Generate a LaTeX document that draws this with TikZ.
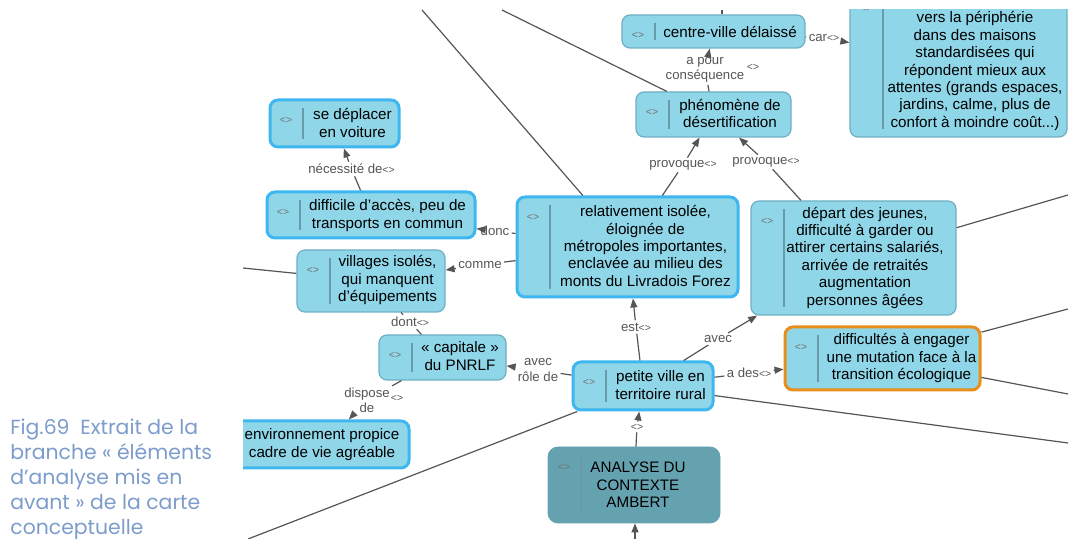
\documentclass[tikz,border=0pt]{standalone}
\usepackage{fontspec}
\setmainfont{Liberation Sans}
\newfontfamily\capfont{Poppins}
\usetikzlibrary{arrows.meta,calc}
\definecolor{ConceptFill}{HTML}{8FD6E8}
\definecolor{ThickBlue}{HTML}{3EB7F0}
\definecolor{ThinTeal}{HTML}{6EAFC3}
\definecolor{MapOrange}{HTML}{E88E1A}
\definecolor{RootTeal}{HTML}{65A2B0}
\definecolor{SepGrey}{HTML}{6A9AAA}
\definecolor{LinkGrey}{HTML}{555555}
\definecolor{CaptionBlue}{HTML}{7C9CCB}
\newcommand\icn{{\fontsize{5.2}{6}\selectfont <>}}

\begin{document}
\begin{tikzpicture}[x=0.5pt,y=-0.5pt,
  cbox/.style={rounded corners=4pt, fill=ConceptFill, inner sep=0pt,
    path picture={
      \draw[SepGrey, line width=0.6pt]
        ($(path picture bounding box.north west)+(33,8)$) --
        ($(path picture bounding box.south west)+(33,-8)$);
      \node[text=black!55, inner sep=0pt]
        at ($(path picture bounding box.north west)+(16,20)$) {\icn};
    }},
  cthin/.style={cbox, draw=ThinTeal, line width=0.6pt},
  cthick/.style={cbox, draw=ThickBlue, line width=1.5pt},
  corange/.style={cbox, draw=MapOrange, line width=1.5pt},
  croot/.style={cbox, fill=RootTeal, draw=RootTeal, rounded corners=5pt},
  ctext/.style={align=center, inner sep=0pt, font=\fontsize{7.6}{8.7}\selectfont},
  lbl/.style={align=center, inner sep=1pt, text=LinkGrey,
    font=\fontsize{6.6}{7.6}\selectfont},
  link/.style={draw=LinkGrey, line width=0.6pt},
  arr/.style={link, -{Triangle[length=4.5pt,width=3.5pt]}}]
\useasboundingbox (0,0) rectangle (1073,539);

% the map itself, cut at the edges of the screenshot
\begin{scope}
\clip (243,10) rectangle (1068,539);
\foreach \nm/\st/\x/\y/\w/\h/\tx/\ty/\txt in {
  centre/cthin/713.5/31.5/183/33/730/32/{centre-ville délaissé},
  bigbox/cthin/958.5/62.5/217/149/975/71/{vers la périphérie\\dans des maisons\\standardisées qui\\répondent mieux aux\\attentes (grands espaces,\\jardins, calme, plus de\\confort à moindre coût...)},
  phen/cthin/713.5/114.5/155/45/730/113.5/{phénomène de\\désertification},
  sedepl/cthick/334.5/123.5/129/47/352.5/123/{se déplacer\\en voiture},
  diffi/cthick/371/215/208/46/387.5/215.5/{difficile d’accès, peu de\\transports en commun},
  vill/cthin/371/281/148/62/387.5/280/{villages isolés,\\qui manquent\\d’équipements},
  relat/cthick/627.5/247/221/100/645.5/246/{relativement isolée,\\éloignée de\\métropoles importantes,\\enclavée au milieu des\\monts du Livradois Forez},
  depart/cthin/853.5/258/205/114/865/257.5/{départ des jeunes,\\difficulté à garder ou\\attirer certains salariés,\\arrivée de retraités\\augmentation\\personnes âgées},
  transi/corange/882.5/358.5/195/63/901.5/358/{difficultés à engager\\une mutation face à la\\transition écologique},
  petite/cthick/643/386/140/48/660.5/385/{petite ville en\\territoire rural},
  capit/cthin/442.5/357.5/127/45/460/356/{«~capitale~»\\du PNRLF},
  envir/cthick/305.5/444.5/207/47/322/444.5/{environnement propice\\cadre de vie agréable},
  analyse/croot/634/485/172/76/638/485/{ANALYSE DU\\CONTEXTE\\AMBERT}}
{
  \node[\st, minimum width={\w*0.5pt}, minimum height={\h*0.5pt}] (\nm) at (\x,\y) {};
  \node[ctext] (\nm-t) at (\tx,\ty) {\txt};
}

% linking phrases
\node[lbl] (lcar) at (824,38) {car\icn};
\node[lbl] (lcons) at (705,70) {a pour\\conséquence};
\node[lbl] (lcons-i) at (753,67) {\icn};
\node[lbl] (lprov1) at (683,165) {provoque\icn};
\node[lbl] (lprov2) at (766,162) {provoque\icn};
\node[lbl] (lnec) at (351.5,169) {nécessité de\icn};
\node[lbl] (ldonc) at (495,231) {donc};
\node[lbl] (lcomme) at (480,265) {comme};
\node[lbl] (ldont) at (410,322) {dont\icn};
\node[lbl] (lrole) at (538,370) {avec\\rôle de};
\node[lbl] (ldisp) at (367,400) {dispose\\de};
\node[lbl] (ldisp-i) at (397,398) {\icn};
\node[lbl] (lest) at (636,327) {est\icn};
\node[lbl] (lavec) at (718,339) {avec};
\node[lbl] (lades) at (749,373) {a des\icn};
\node[lbl] (lana) at (637,427) {\icn};

\draw[link] (centre) -- (lcar);
\draw[arr] (lcar) -- (bigbox);
\draw[link] (phen) -- (lcons);
\draw[arr] (lcons) -- (centre);
\draw[link] (relat) -- (lprov1);
\draw[arr] (lprov1) -- (phen);
\draw[link] (depart) -- (lprov2);
\draw[arr] (lprov2) -- (phen);
\draw[link] (diffi) -- (lnec);
\draw[arr] (lnec) -- (sedepl);
\draw[link] (relat) -- (ldonc);
\draw[arr] (ldonc) -- (diffi);
\draw[link] (relat) -- (lcomme);
\draw[arr] (lcomme) -- (vill);
\draw[link] (vill) -- (ldont);
\draw[link] (ldont) -- (capit);
\draw[link] (petite) -- (lrole);
\draw[arr] (lrole) -- (capit);
\draw[link] (capit) -- (ldisp);
\draw[arr] (ldisp) -- (envir.30);
\draw[link] (petite) -- (lest);
\draw[arr] (lest) -- (relat);
\draw[link] (petite) -- (lavec);
\draw[arr] (lavec) -- (depart);
\draw[link] (petite) -- (lades);
\draw[arr] (lades) -- (transi);
\draw[link] (analyse) -- (lana);
\draw[arr] (lana) -- (petite);

% links leaving the cut-out
\coordinate (ftop1) at (422,10);
\coordinate (ftop2) at (502,10);
\coordinate (ftop3) at (722,10);
\coordinate (fleft) at (243,268);
\coordinate (fright1) at (1068,195);
\coordinate (fright2) at (1068,309);
\coordinate (fright3) at (1068,394);
\coordinate (fright4) at (1068,443);
\coordinate (fbl) at (248,539);
\coordinate (fbot) at (635,539);
\draw[link] (ftop1) -- (relat);
\draw[link] (ftop2) -- (phen);
\draw[link] (ftop3) -- (ftop3 |- centre.north);
\draw[link] (fleft) -- (vill);
\draw[link] (fright1) -- (depart);
\draw[link] (fright2) -- (transi);
\draw[link] (fright3) -- (transi);
\draw[link] (fright4) -- (petite);
\draw[link] (fbl) -- (petite);
\draw[arr] (fbot) -- (fbot |- analyse.south);
\end{scope}

\node[anchor=north west, align=left, inner sep=0pt, text=CaptionBlue,
  font=\capfont\fontsize{10.2}{12.5}\selectfont] (caption) at (10,419)
  {Fig.69\ \ Extrait de la\\branche « éléments\\d’analyse mis en\\avant » de la carte\\conceptuelle};
\end{tikzpicture}
\end{document}
